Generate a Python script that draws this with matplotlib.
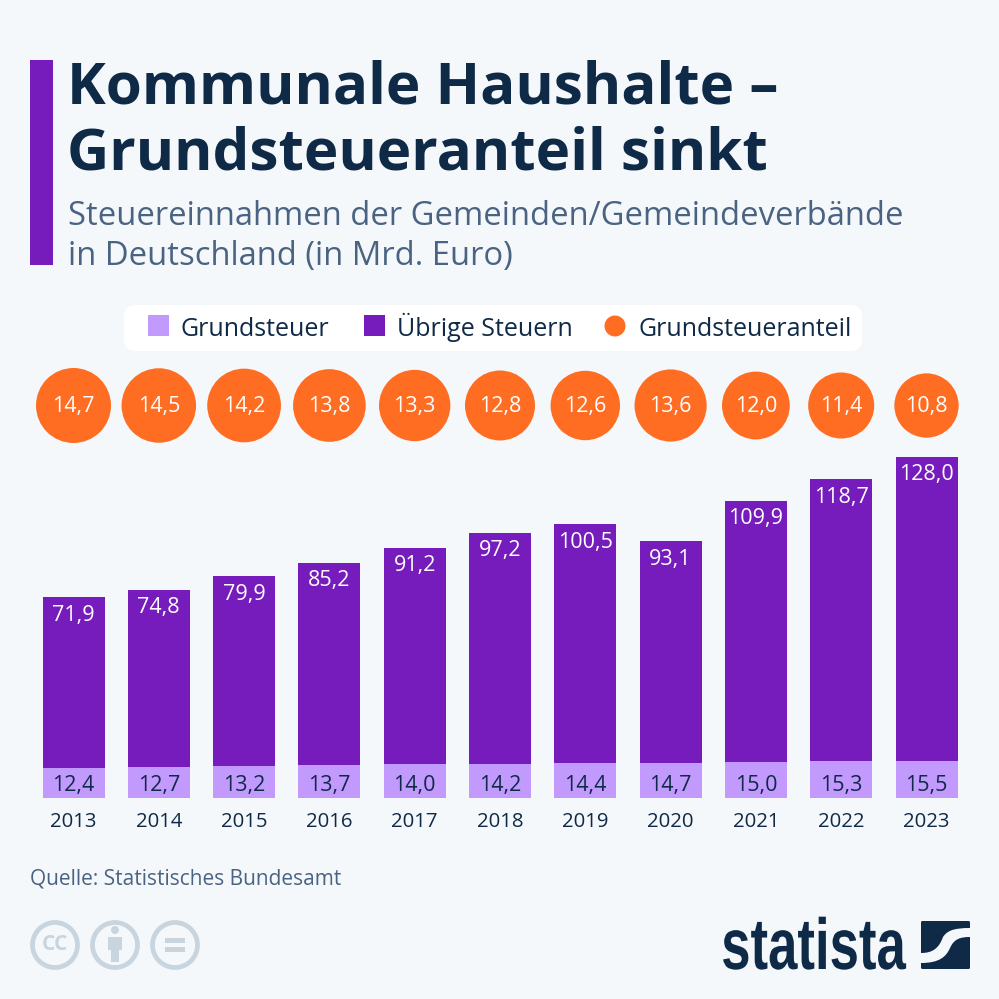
import matplotlib
matplotlib.use("Agg")
import matplotlib.pyplot as plt
import matplotlib.patheffects as pe
from matplotlib.patches import Rectangle, FancyBboxPatch, Circle, PathPatch
from matplotlib.path import Path
from matplotlib.transforms import Affine2D

plt.rcParams['font.family'] = ['Open Sans', 'DejaVu Sans']

years = [2013, 2014, 2015, 2016, 2017, 2018, 2019, 2020, 2021, 2022, 2023]
grundsteuer = [12.4, 12.7, 13.2, 13.7, 14.0, 14.2, 14.4, 14.7, 15.0, 15.3, 15.5]
uebrige = [71.9, 74.8, 79.9, 85.2, 91.2, 97.2, 100.5, 93.1, 109.9, 118.7, 128.0]
anteil = [14.7, 14.5, 14.2, 13.8, 13.3, 12.8, 12.6, 13.6, 12.0, 11.4, 10.8]

BG = '#f5f8fb'; PURPLE = '#761cbc'; LIGHT = '#c299fc'; ORANGE = '#ff6d22'
NAVY = '#0f2a47'; SUB = '#4a6382'; ICON = '#c8d4de'
LABEL = 15.5

def de(v):
    return f"{v:.1f}".replace('.', ',')

class SqueezeX(pe.AbstractPathEffect):
    """Narrows text horizontally around a display x, keeping it real text."""
    def __init__(self, cx, sx):
        super().__init__()
        self.cx, self.sx = cx, sx
    def draw_path(self, renderer, gc, tpath, affine, rgbFace=None):
        squeeze = Affine2D().translate(-self.cx, 0).scale(self.sx, 1).translate(self.cx, 0)
        renderer.draw_path(gc, tpath, affine + squeeze, rgbFace)

fig = plt.figure(figsize=(9.99, 9.99), dpi=100, facecolor=BG)

# overlay in pixel coordinates
ov = fig.add_axes([0, 0, 1, 1], zorder=0)
ov.set_xlim(0, 999); ov.set_ylim(999, 0); ov.axis('off')

ov.add_patch(Rectangle((30, 60), 23, 205, color=PURPLE, lw=0))
ov.text(67, 104, "Kommunale Haushalte –", fontsize=42, fontweight='bold', color=NAVY, va='baseline', ha='left')
ov.text(67, 170, "Grundsteueranteil sinkt", fontsize=42, fontweight='bold', color=NAVY, va='baseline', ha='left')
ov.text(68, 225, "Steuereinnahmen der Gemeinden/Gemeindeverbände", fontsize=23.6, color=SUB, va='baseline', ha='left')
ov.text(68, 265, "in Deutschland (in Mrd. Euro)", fontsize=23.6, color=SUB, va='baseline', ha='left')

# legend
ov.add_patch(FancyBboxPatch((124, 305), 738, 46, boxstyle="round,pad=0,rounding_size=12", lw=0, fc='white'))
ov.add_patch(Rectangle((148, 315), 21, 21, color=LIGHT, lw=0))
ov.text(181, 335.5, "Grundsteuer", fontsize=18, color=NAVY, va='baseline', ha='left')
ov.add_patch(Rectangle((364, 315), 21, 21, color=PURPLE, lw=0))
ov.text(397, 335.5, "Übrige Steuern", fontsize=18, color=NAVY, va='baseline', ha='left')
ov.add_patch(Circle((615, 326), 10.5, color=ORANGE, lw=0))
ov.text(638, 335.5, "Grundsteueranteil", fontsize=18, color=NAVY, va='baseline', ha='left')

# chart axes: baseline at y=797.5 px, 2.376 px per unit, bars 85.3 px apart
bottom_px, top_px = 797.5, 360
ax = fig.add_axes([0, (999 - bottom_px) / 999, 1, (bottom_px - top_px) / 999], zorder=1)
ax.patch.set_alpha(0)
ax.set_xlim(-73.5 / 85.3, (999 - 73.5) / 85.3)
ax.set_ylim(0, (bottom_px - top_px) / 2.376)
for s in ax.spines.values():
    s.set_visible(False)
xs = list(range(len(years)))
bw = 62 / 85.3
ax.bar(xs, grundsteuer, width=bw, color=LIGHT, lw=0)
ax.bar(xs, uebrige, bottom=grundsteuer, width=bw, color=PURPLE, lw=0)
ax.set_xticks(xs, [str(y) for y in years], fontsize=14.7, color=NAVY)
ax.tick_params(axis='x', length=0, pad=10.5)
ax.set_yticks([])
y_c = (bottom_px - 405.5) / 2.376
ax.scatter(xs, [y_c] * len(xs), s=[198.4 * a for a in anteil], color=ORANGE, linewidths=0, zorder=3)
for x, g, u, a in zip(xs, grundsteuer, uebrige, anteil):
    ax.annotate(de(g), (x, 0), xytext=(0, 5), textcoords='offset points', ha='center', va='baseline', fontsize=LABEL, color=NAVY)
    ax.annotate(de(u), (x, g + u), xytext=(0, -17), textcoords='offset points', ha='center', va='baseline', fontsize=LABEL, color='white')
    ax.annotate(de(a), (x, y_c), xytext=(0, -5), textcoords='offset points', ha='center', va='baseline', fontsize=LABEL, color='white', zorder=4)

# source
ov.text(30, 885, "Quelle: Statistisches Bundesamt", fontsize=15, color=SUB, va='baseline', ha='left')

# cc icons
for cx in (55, 115, 175):
    ov.add_patch(Circle((cx, 945), 22.5, fc='none', ec=ICON, lw=3.4))
ov.text(55, 945, "CC", fontsize=15, fontweight='bold', color=ICON, ha='center', va='center')
ov.add_patch(Circle((115, 930), 4, color=ICON, lw=0))
ov.add_patch(Rectangle((108, 937), 14, 13, color=ICON, lw=0))
ov.add_patch(Rectangle((111, 950), 8, 12, color=ICON, lw=0))
ov.add_patch(Rectangle((165, 938), 20, 5, color=ICON, lw=0))
ov.add_patch(Rectangle((165, 947), 20, 5, color=ICON, lw=0))

# statista logo
ov.text(813.5, 969, "statista", fontsize=52, fontweight='bold', color=NAVY, ha='center', va='baseline',
        family=['Liberation Sans'], path_effects=[SqueezeX(813.5, 0.73)])
ov.add_patch(FancyBboxPatch((921, 921), 49, 48, boxstyle="round,pad=0,rounding_size=1.5", fc=NAVY, lw=0))
swoosh = Path([(921, 953),
               (933, 953), (939, 948), (943, 937),
               (947, 931), (953, 928), (970, 928),
               (970, 937),
               (960, 937), (954, 939), (950, 948),
               (946, 957), (939, 963), (921, 963),
               (921, 953)],
              [Path.MOVETO] + [Path.CURVE4] * 6 + [Path.LINETO] + [Path.CURVE4] * 6 + [Path.LINETO])
ov.add_patch(PathPatch(swoosh, fc=BG, lw=0))

fig.savefig("out.png", dpi=100, facecolor=BG)
